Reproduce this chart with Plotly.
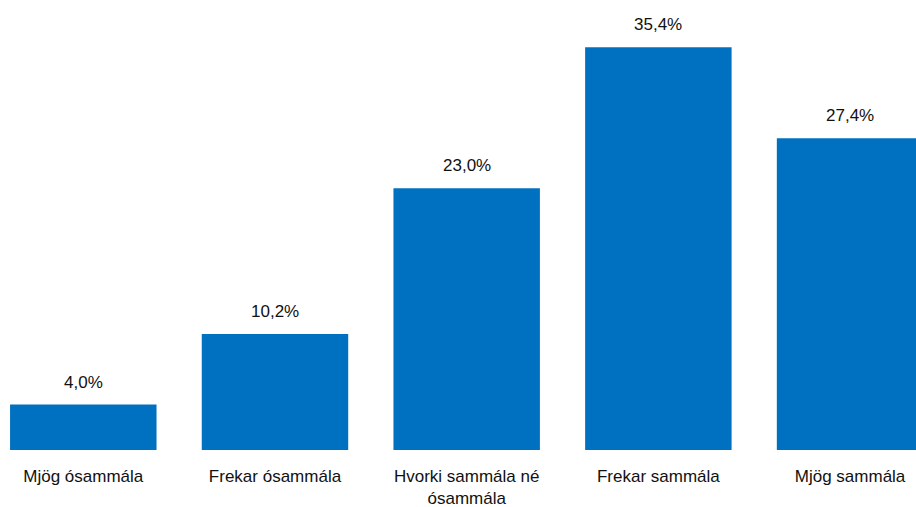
import plotly.graph_objects as go

categories = ["Mjög ósammála", "Frekar ósammála", "Hvorki sammála né ósammála", "Frekar sammála", "Mjög sammála"]
tick_labels = ["Mjög ósammála", "Frekar ósammála", "Hvorki sammála né<br>ósammála", "Frekar sammála", "Mjög sammála"]
values = [4.0, 10.2, 23.0, 35.4, 27.4]
value_labels = ["4,0%", "10,2%", "23,0%", "35,4%", "27,4%"]

FONT = "Liberation Sans, Arial, sans-serif"
BAR_COLOR = "#0070C0"

fig = go.Figure()
fig.add_trace(go.Bar(
    x=list(range(len(categories))),
    y=values,
    marker=dict(color=BAR_COLOR, line=dict(width=0)),
    hovertext=categories,
    cliponaxis=True,
))

annotations = []
for i, (v, lab) in enumerate(zip(values, value_labels)):
    annotations.append(dict(
        x=i, y=v, xref="x", yref="y", text=lab, showarrow=False,
        yanchor="bottom", yshift=11,
        font=dict(family=FONT, size=17, color="#111111"),
    ))

fig.update_layout(
    width=916, height=507,
    margin=dict(l=0, r=0, t=0, b=57),
    paper_bgcolor="white", plot_bgcolor="white",
    bargap=0.236,
    showlegend=False,
    annotations=annotations,
    xaxis=dict(
        range=[-0.4345, 4.344],
        tickmode="array",
        tickvals=list(range(len(categories))),
        ticktext=tick_labels,
        showgrid=False, zeroline=False, showline=False,
        ticks="",
        ticklabelstandoff=14,
        tickfont=dict(family=FONT, size=17, color="#111111"),
    ),
    yaxis=dict(
        range=[0, 39.56],
        visible=False,
        showgrid=False, zeroline=False,
    ),
)

fig.write_html("out.html", config={"displayModeBar": False},
               post_script="document.body.style.margin='0px';")
